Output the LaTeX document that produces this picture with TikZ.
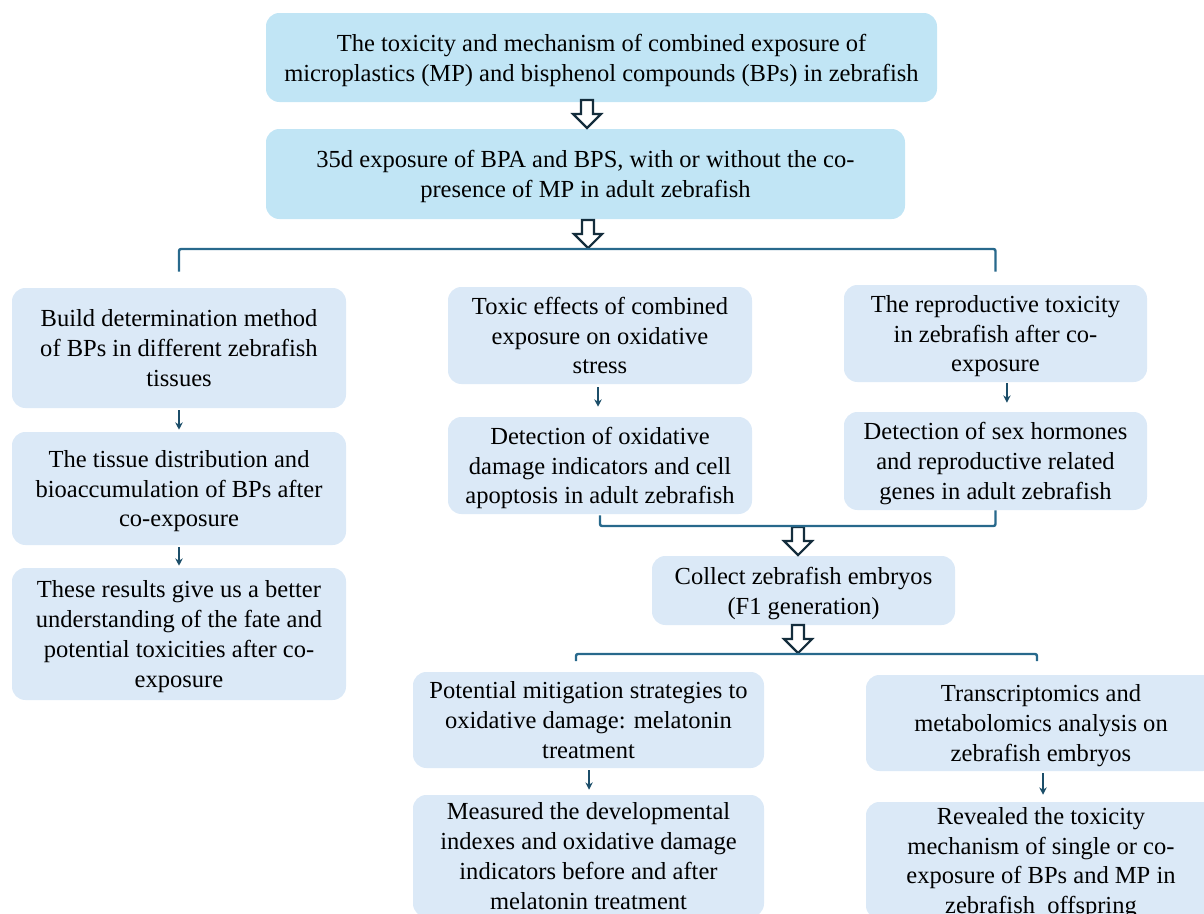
\documentclass[tikz,border=0pt]{standalone}
\usepackage{fontspec}
\setmainfont{Liberation Serif}
\usetikzlibrary{calc,arrows.meta}
\definecolor{topblue}{RGB}{193,229,245}
\definecolor{boxblue}{RGB}{219,233,247}
\definecolor{brkc}{RGB}{40,105,140}
\definecolor{arrc}{RGB}{28,78,105}
\definecolor{holc}{RGB}{20,45,60}
\begin{document}
\begin{tikzpicture}[x=0.75pt,y=-0.75pt,
  box/.style={rounded corners=10pt, fill=boxblue, align=center, inner sep=0pt,
    text depth=0pt, font=\fontsize{18.4}{22.3}\selectfont},
  topbox/.style={box, fill=topblue},
  sarrow/.style={draw=arrc, line width=1.2pt, -{Stealth[length=5.5pt,width=5.5pt]}},
  brkline/.style={draw=brkc, line width=1.8pt, rounded corners=1.5pt},
  hollow/.style={draw=holc, line width=1.6pt, fill=white, line join=miter},
  harrow/.pic={\draw[hollow] (-6,0) -- (6,0) -- (6,14) -- (14,14) -- (0,28) -- (-14,14) -- (-6,14) -- cycle;}
]
\path[use as bounding box] (0,0) rectangle (1204,914);
\clip (0,0) rectangle (1204,914);
\newcommand{\bx}[7]{\node[#6, minimum width=#4*0.75pt, minimum height=#5*0.75pt] (#1) at (#2,#3) {#7};}

\bx{top}{601.5}{57.5}{671}{89}{topbox}{The toxicity and mechanism of combined exposure of\\microplastics (MP) and bisphenol compounds (BPs) in zebrafish}
\bx{exp}{585.5}{174}{639}{90}{topbox}{35d exposure of BPA and BPS, with or without the co-\\presence of MP in adult zebrafish}

\bx{L1}{179}{348}{334}{120}{box}{Build determination method\\of BPs in different zebrafish\\tissues}
\bx{L2}{179}{488.5}{334}{113}{box}{The tissue distribution and\\bioaccumulation of BPs after\\co-exposure}
\bx{L3}{179}{634}{334}{132}{box}{These results give us a better\\understanding of the fate and\\potential toxicities after co-\\exposure}

\bx{M1}{600}{335.5}{304}{97}{box}{Toxic effects of combined\\exposure on oxidative\\stress}
\bx{M2}{600}{465.5}{304}{97}{box}{Detection of oxidative\\damage indicators and cell\\apoptosis in adult zebrafish}

\bx{R1}{995.5}{333.5}{303}{97}{box}{The reproductive toxicity\\in zebrafish after co-\\exposure}
\bx{R2}{995.5}{461}{303}{98}{box}{Detection of sex hormones\\and reproductive related\\genes in adult zebrafish}

\bx{C}{803.5}{590.5}{303}{69}{box}{Collect zebrafish embryos\\(F1 generation)}

\bx{B1}{588.5}{720}{351}{96}{box}{Potential mitigation strategies to\\oxidative damage: melatonin\\treatment}
\bx{B2}{588.5}{856}{351}{122}{box}{Measured the developmental\\indexes and oxidative damage\\indicators before and after\\melatonin treatment}
\bx{B3}{1041}{723}{350}{96}{box}{Transcriptomics and\\metabolomics analysis on\\zebrafish embryos}
\bx{B4}{1041}{860.5}{350}{117}{box}{Revealed the toxicity\\mechanism of single or co-\\exposure of BPs and MP in\\zebrafish\ \ offspring}

% hollow arrows
\pic at (587,100) {harrow};
\pic at (588,220) {harrow};
\pic at (798,527) {harrow};
\pic at (798,625) {harrow};

% brackets
\coordinate (k1) at (588,249);
\draw[brkline] ([yshift=12pt]L1.north) |- (k1) -| ([yshift=9.75pt]R1.north);
\coordinate (k2) at (798,526);
\draw[brkline] ([yshift=-0.75pt]M2.south) |- (k2) -| (R2.south);
\coordinate (k3a) at (576,661);
\coordinate (k3) at (798,654);
\coordinate (k3b) at (1037,661);
\draw[brkline] (k3a) |- (k3) -| (k3b);

% small arrows
\draw[sarrow] ([yshift=-1.5pt]L1.south) -- ([yshift=1.5pt]L2.north);
\draw[sarrow] ([yshift=-1.5pt]L2.south) -- ([yshift=1.5pt]L3.north);
\draw[sarrow] ([xshift=-1.5pt,yshift=-2.25pt]M1.south) -- ([xshift=-1.5pt,yshift=7.5pt]M2.north);
\draw[sarrow] ([xshift=8.6pt,yshift=-0.75pt]R1.south) -- ([xshift=8.6pt,yshift=6.75pt]R2.north);
\draw[sarrow] ([xshift=0.4pt,yshift=-1.5pt]B1.south) -- ([xshift=0.4pt,yshift=3.75pt]B2.north);
\draw[sarrow] ([xshift=1.5pt,yshift=-1.5pt]B3.south) -- ([xshift=1.5pt,yshift=5.25pt]B4.north);
\end{tikzpicture}
\end{document}
